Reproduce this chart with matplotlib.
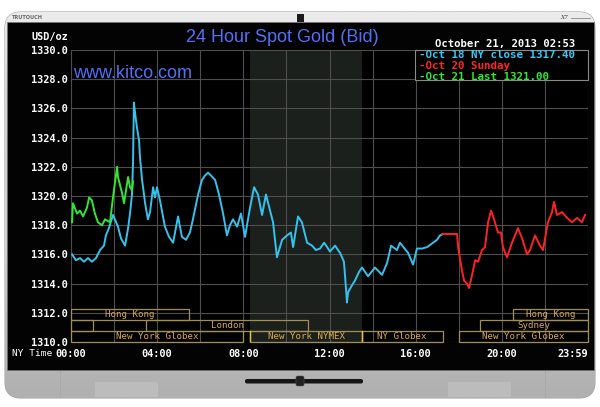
import numpy as np
import matplotlib
matplotlib.use('Agg')
import matplotlib.pyplot as plt
from matplotlib.patches import Rectangle, FancyBboxPatch
from matplotlib.colors import LinearSegmentedColormap

# ---------------- data (NY time in hours, USD/oz) ----------------
cyan_t = [0.05, 0.23, 0.42, 0.60, 0.79, 0.97, 1.16, 1.35, 1.53, 1.62, 1.76, 1.95, 2.18, 2.32, 2.51,
          2.65, 2.74, 2.83, 2.88, 2.92, 2.99, 3.06, 3.16, 3.20, 3.30, 3.44, 3.57, 3.67, 3.81, 3.90,
          3.99, 4.13, 4.36, 4.55, 4.74, 4.97, 5.15, 5.34, 5.52, 5.66, 5.90, 6.08, 6.22, 6.36, 6.50,
          6.69, 6.87, 7.06, 7.24, 7.38, 7.52, 7.71, 7.89, 8.08, 8.31, 8.50, 8.68, 8.87, 9.05, 9.24,
          9.38, 9.56, 9.80, 10.03, 10.21, 10.31, 10.54, 10.72, 10.96, 11.19, 11.37, 11.56, 11.75,
          11.89, 12.02, 12.26, 12.49, 12.67, 12.77, 12.81, 12.86, 13.05, 13.18, 13.37, 13.51, 13.79,
          14.11, 14.44, 14.67, 14.86, 15.13, 15.27, 15.65, 15.88, 16.06, 16.30, 16.53, 16.81, 16.99,
          17.13, 17.27]
cyan_v = [1316.0, 1315.6, 1315.75, 1315.5, 1315.75, 1315.5, 1315.75, 1316.3, 1316.6, 1317.3, 1317.8,
          1318.7, 1317.9, 1317.1, 1316.6, 1317.8, 1318.8, 1320.1, 1322.3, 1326.4, 1325.5, 1324.7,
          1323.8, 1322.7, 1321.1, 1319.5, 1318.4, 1318.9, 1320.6, 1319.9, 1320.6, 1319.7, 1317.9,
          1317.2, 1316.8, 1318.6, 1317.2, 1317.0, 1317.5, 1318.4, 1320.1, 1321.1, 1321.4, 1321.6,
          1321.4, 1321.1, 1320.1, 1318.8, 1317.3, 1318.0, 1318.4, 1317.9, 1318.8, 1317.2, 1319.2,
          1320.6, 1320.1, 1318.7, 1320.1, 1319.0, 1318.2, 1315.8, 1317.0, 1317.3, 1317.5, 1316.5,
          1318.6, 1318.2, 1316.8, 1316.6, 1316.3, 1316.4, 1316.8, 1316.5, 1316.2, 1316.6, 1316.1,
          1315.5, 1313.6, 1312.7, 1313.4, 1313.9, 1314.2, 1314.8, 1315.1, 1314.5, 1315.1, 1314.6,
          1315.4, 1316.6, 1316.3, 1316.8, 1316.1, 1315.3, 1316.4, 1316.4, 1316.5, 1316.8, 1317.0,
          1317.3, 1317.4]

red_t = [17.22, 17.92, 17.97, 18.15, 18.25, 18.38, 18.48, 18.62, 18.76, 18.90, 19.08, 19.22, 19.36,
         19.50, 19.64, 19.82, 19.96, 20.05, 20.24, 20.47, 20.75, 20.94, 21.17, 21.31, 21.54, 21.77,
         21.91, 22.14, 22.33, 22.42, 22.56, 22.79, 23.03, 23.26, 23.49, 23.72, 23.86]
red_v = [1317.4, 1317.4, 1316.5, 1314.9, 1314.2, 1314.0, 1313.7, 1314.6, 1315.6, 1315.5, 1316.3,
         1316.5, 1318.2, 1319.0, 1318.4, 1317.5, 1317.5, 1316.5, 1315.8, 1316.8, 1317.8, 1317.1,
         1316.0, 1316.3, 1317.3, 1316.6, 1316.3, 1318.2, 1318.9, 1319.6, 1318.7, 1318.9, 1318.5,
         1318.2, 1318.5, 1318.2, 1318.7]

green_t = [0.05, 0.09, 0.28, 0.42, 0.56, 0.74, 0.84, 0.97, 1.11, 1.25, 1.44, 1.58, 1.81, 1.95, 2.14,
           2.18, 2.37, 2.46, 2.65, 2.74, 2.83, 2.88]
green_v = [1318.2, 1319.5, 1318.8, 1319.0, 1318.6, 1319.2, 1319.9, 1319.7, 1318.8, 1318.2, 1318.0,
           1318.4, 1318.2, 1319.9, 1322.0, 1321.3, 1320.2, 1319.5, 1321.3, 1320.6, 1320.4, 1321.0]

legend_labels = ['-Oct 18 NY close 1317.40', '-Oct 20 Sunday', '-Oct 21 Last 1321.00']

y_ticks = [1310, 1312, 1314, 1316, 1318, 1320, 1322, 1324, 1326, 1328, 1330]
x_grid = list(range(0, 25, 2))
x_labels = ['00:00', '', '04:00', '', '08:00', '', '12:00', '', '16:00', '', '20:00', '', '23:59']

nymex_span = (8.33, 13.5)
# session rows: (start, end, label)
row1 = [(0, 5.5, 'Hong Kong'), (20.5, 24, 'Hong Kong')]
row2 = [(0, 1, ''), (3.5, 11, 'London'), (19, 24, 'Sydney')]
row3 = [(0, 8, 'New York Globex'), (8.33, 13.5, 'New York NYMEX'), (13.5, 17.25, 'NY Globex'),
        (18, 24, 'New York Globex')]

# ---------------- figure & TV frame ----------------
W, H = 600, 407
fig = plt.figure(figsize=(6.0, 4.07), dpi=100)
fig.patch.set_facecolor('white')

bg = fig.add_axes([0, 0, 1, 1])
bg.set_xlim(0, W)
bg.set_ylim(H, 0)
bg.axis('off')

body = FancyBboxPatch((5, 12), 590, 386, boxstyle='round,pad=0,rounding_size=16',
                      fc='#c4c4c4', ec='#a4a4a4', lw=0.8, zorder=1)
bg.add_patch(body)
cm = LinearSegmentedColormap.from_list('bez', ['#ececec', '#d6d6d6', '#cfcfcf', '#d2d2d2', '#bdbdbd', '#b0b0b0'])
grad = np.linspace(0, 1, 200).reshape(-1, 1)
im = bg.imshow(grad, extent=(5, 595, 398, 12), cmap=cm, aspect='auto', zorder=1.5, origin='upper')
im.set_clip_path(body)

# top bar details
bg.text(12, 17.5, 'TRUTOUCH', fontsize=3.6, color='#666666', va='center', ha='left', zorder=3,
        fontfamily='DejaVu Sans', fontweight='bold')
bg.add_patch(Rectangle((297, 13.5), 7, 8, fc='#1a1a1a', ec='none', zorder=3))
bg.text(560, 17.5, 'X7', fontsize=4.2, color='#444444', va='center', ha='left', style='italic',
        zorder=3, fontfamily='DejaVu Serif')
bg.plot([571, 590], [18, 18], color='#8a8a8a', lw=0.6, zorder=3)

# screen
bg.add_patch(Rectangle((6.5, 22), 587, 348, fc='#030303', ec='#777777', lw=0.4, zorder=2))

# bottom bezel details
for xs in (60, 545):
    bg.plot([xs, xs], [371, 397], color='#a9a9a9', lw=0.7, zorder=3)
for xs in (95, 448):
    bg.add_patch(Rectangle((xs, 382), 63, 15, fc='#bcbcbc', ec='none', zorder=3))
bg.add_patch(FancyBboxPatch((245, 379), 118, 4.5, boxstyle='round,pad=0,rounding_size=2',
                            fc='#151515', ec='none', zorder=3))
bg.add_patch(FancyBboxPatch((296, 376), 8, 10, boxstyle='round,pad=0,rounding_size=1.5',
                            fc='#202020', ec='#555555', lw=0.4, zorder=4))

# ---------------- chart ----------------
L, R, T, B = 71, 588, 50, 342
ax = fig.add_axes([L / W, 1 - B / H, (R - L) / W, (B - T) / H])
ax.set_facecolor('#000000')
ax.set_xlim(0, 24)
ax.set_ylim(1310, 1330)
for s in ax.spines.values():
    s.set_visible(False)

ax.axvspan(*nymex_span, color='#1c201c', zorder=0.5, lw=0)

mono = 'DejaVu Sans Mono'
ax.set_yticks(y_ticks)
ax.set_yticklabels([f'{v:.1f}' for v in y_ticks], fontfamily=mono, fontweight='bold',
                   fontsize=7.4, color='white')
ax.set_xticks(x_grid)
ax.set_xticklabels(x_labels, fontfamily=mono, fontweight='bold', fontsize=7.4, color='white')
ax.tick_params(axis='both', length=0)
ax.tick_params(axis='y', pad=2.5)
ax.tick_params(axis='x', pad=5)
tl = ax.get_xticklabels()
tl[-1].set_ha('right')
ax.grid(True, color='#4e4e4e', lw=0.8, zorder=1)
ax.set_axisbelow(True)

# session boxes
rows = [(row1, 1311.5, 0.75), (row2, 1310.75, 0.75), (row3, 1310.0, 0.75)]
for items, y0, hgt in rows:
    for (a, b, lab) in items:
        ax.add_patch(Rectangle((a, y0), b - a, hgt, fill=False, ec='#a08f58', lw=0.9, zorder=2,
                               clip_on=False))
        if lab:
            ax.text((a + b) / 2, y0 + hgt / 2, lab, fontfamily=mono, fontsize=6.6,
                    color='#dcaa52', ha='center', va='center', zorder=3)
for xs in nymex_span:
    ax.plot([xs, xs], [1310.0, 1310.75], color='#e2c440', lw=1.0, zorder=2.5)

# price lines
ax.plot(cyan_t, cyan_v, color='#33c3ee', lw=1.4, zorder=4)
ax.plot(red_t, red_v, color='#ff2222', lw=1.4, zorder=4)
ax.plot(green_t, green_v, color='#33e633', lw=1.4, zorder=4)

# legend box
ax.add_patch(Rectangle((0.665, 0.897), 0.335, 0.103, transform=ax.transAxes, fc='black',
                       ec='#8a8a8a', lw=0.8, zorder=5, clip_on=False))

# texts on top (pixel coords)
top = fig.add_axes([0, 0, 1, 1], facecolor='none')
top.set_xlim(0, W)
top.set_ylim(H, 0)
top.axis('off')
top.text(282, 38, '24 Hour Spot Gold (Bid)', fontfamily='Liberation Sans', fontsize=13,
         color='#5270f4', ha='center', va='center')
top.text(73, 73, 'www.kitco.com', fontfamily='Liberation Sans', fontsize=13,
         color='#5270f4', ha='left', va='center')
top.text(68, 37, 'USD/oz', fontfamily=mono, fontweight='bold', fontsize=7.4, color='white',
         ha='right', va='center')
top.text(505, 44, 'October 21, 2013 02:53', fontfamily=mono, fontweight='bold', fontsize=7.6,
         color='white', ha='center', va='center')
for lab, col, yy in zip(legend_labels, ['#38c6f2', '#ff2626', '#33e633'], [55, 66, 77]):
    top.text(419, yy, lab, fontfamily=mono, fontweight='bold', fontsize=7.8, color=col,
             ha='left', va='center')
top.text(12, 353, 'NY Time', fontfamily=mono, fontsize=6.8, color='white', ha='left', va='center')

fig.savefig('out.png', dpi=100, facecolor='white')
